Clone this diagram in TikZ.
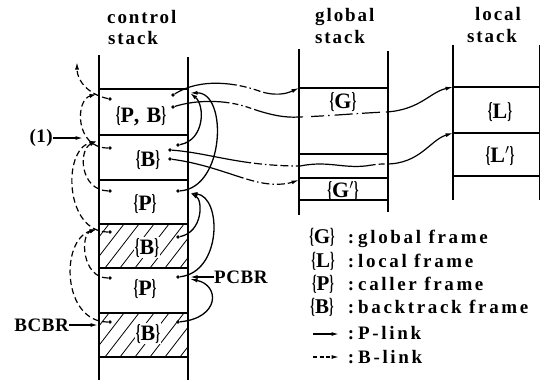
\documentclass[tikz,border=0pt]{standalone}
\usepackage{fontspec}
\setmainfont{Liberation Serif}
\newfontfamily\ttlfont{Liberation Serif}[LetterSpace=10]
\newfontfamily\lblfont{Liberation Serif}[LetterSpace=8]
\newfontfamily\ptrfont{Liberation Serif}[LetterSpace=3]
\newfontfamily\legfont{Liberation Serif}[LetterSpace=14]
\usetikzlibrary{arrows.meta}
\newcommand\Lb{\scalebox{0.55}[1.05]{\{}}
\newcommand\Rb{\scalebox{0.55}[1.05]{\}}}
\tikzset{
  wall/.style={line width=1.8pt},
  sep/.style={line width=1.8pt},
  hatchline/.style={line width=0.8pt},
  ttl/.style={font={\ttlfont\bfseries\fontsize{19}{21}\selectfont}, inner sep=0pt, anchor=base west},
  lbl/.style={font={\lblfont\bfseries\fontsize{22}{24}\selectfont}, inner sep=1pt, anchor=base},
  lblw/.style={lbl, fill=white},
  leg/.style={font={\legfont\bfseries\fontsize{19}{21}\selectfont}, inner sep=0pt},
  legk/.style={font={\bfseries\fontsize{21}{23}\selectfont}, inner sep=0pt},
  ptr/.style={font={\ptrfont\bfseries\fontsize{19}{21}\selectfont}, inner sep=0pt},
  dot/.style={circle, fill=black, inner sep=0pt, minimum size=3.8pt},
  plink/.style={line width=1.3pt, -{Latex[length=7.5pt,width=4pt]}},
  blink/.style={line width=1.2pt, dash pattern=on 6pt off 3.5pt, -{Latex[length=7.5pt,width=4pt]}},
  glink/.style={line width=1.2pt, -{Latex[length=7.5pt,width=4pt]}},
}
\begin{document}
\begin{tikzpicture}[x=1pt,y=-1pt]
\useasboundingbox (0,0) rectangle (540,391);

% ---------- titles
\node[ttl] (t1a) at (107,23) {control};
\node[ttl] (t1b) at (108,44) {stack};
\node[ttl] (t2a) at (315,21) {global};
\node[ttl] (t2b) at (315,43) {stack};
\node[ttl] (t3a) at (475,20) {local};
\node[ttl] (t3b) at (467,42) {stack};

% ---------- control stack hatching
\begin{scope}
  \clip (99,224) rectangle (188,268);
  \foreach \k in {0,...,10} \draw[hatchline] ({60+15*\k},268) -- ++(34,-44);
\end{scope}
\begin{scope}
  \clip (99,313) rectangle (188,357);
  \foreach \k in {0,...,10} \draw[hatchline] ({60+15*\k},357) -- ++(34,-44);
\end{scope}

% ---------- control stack walls and separators
\draw[wall] (99,55) -- (99,380);
\draw[wall] (188,57) -- (188,380);
\foreach \y in {89,135,180,224,268,313,357} \draw[sep] (99,\y) -- (188,\y);

% ---------- frame labels
\node[lbl]  (c1) at (141,122) {\Lb P, B\Rb};
\node[lbl]  (c2) at (148,166) {\Lb B\Rb};
\node[lbl]  (c3) at (145,210) {\Lb P\Rb};
\node[lblw] (c4) at (147,254) {\Lb B\Rb};
\node[lbl]  (c5) at (145,295) {\Lb P\Rb};
\node[lblw] (c6) at (148,340) {\Lb B\Rb};

% ---------- dots
\node[dot] (f1l)  at (110,99) {};
\node[dot] (f1r1) at (173,95) {};
\node[dot] (f1r2) at (173,107) {};
\node[dot] (f2l)  at (110,148) {};
\node[dot] (f2r0) at (178,145) {};
\node[dot] (f2r1) at (170,150) {};
\node[dot] (f2r2) at (170,159) {};
\node[dot] (f3l)  at (110,191) {};
\node[dot] (f3r)  at (178,191) {};
\node[dot] (f4l)  at (110,232) {};
\node[dot] (f4r)  at (178,237) {};
\node[dot] (f5l)  at (110,278) {};
\node[dot] (f5r)  at (178,277) {};
\node[dot] (f6l)  at (110,322) {};
\node[dot] (f6r)  at (178,322) {};

% ---------- targets on the walls
\coordinate (p1) at (190,93);
\coordinate (p3) at (190,193);
\coordinate (p5) at (190,279);
\coordinate (b0) at (77,62);
\coordinate (b1) at (97,94);
\coordinate (b2) at (97,141);
\coordinate (b4) at (97,229);

% ---------- P-links (solid, right side)
\draw[plink] (f3r) .. controls (225,188) and (228,92) .. (p1);
\draw[plink] (f2r0) .. controls (205,140) and (205,105) .. (p1);
\draw[plink] (f5r) .. controls (222,272) and (222,197) .. (p3);
\draw[plink] (f4r) .. controls (203,232) and (203,200) .. (p3);
\draw[plink] (f6r) .. controls (220,318) and (220,285) .. (p5);

% ---------- B-links (dashed, left side)
\draw[blink] (f1l) .. controls (90,95) and (77,82) .. (b0);
\draw[blink] (f2l) .. controls (75,148) and (75,100) .. (b1);
\draw[blink] (f3l) .. controls (80,190) and (78,150) .. (b2);
\draw[blink] (f4l) .. controls (65,232) and (62,150) .. (b2);
\draw[blink] (f5l) .. controls (82,278) and (80,235) .. (b4);
\draw[blink] (f6l) .. controls (62,322) and (60,240) .. (b4);

% ---------- register pointers
\node[ptr, anchor=east] (one) at (53,138) {(1)};
\coordinate (onet) at (83,138);
\draw[plink] (one.east) -- (onet);
\node[ptr, anchor=west] (pcbr) at (214,277) {PCBR};
\coordinate (pcbrt) at (190,277);
\draw[plink] (pcbr.west) -- (pcbrt);
\node[ptr, anchor=east] (bcbr) at (69,325) {BCBR};
\coordinate (bcbrt) at (98,325);
\draw[plink] (bcbr.east) -- (bcbrt);

% ---------- global stack
\draw[wall] (299,49) -- (299,215);
\draw[wall] (388,51) -- (388,212);
\foreach \y in {88,154,178,200} \draw[sep] (299,\y) -- (388,\y);
\node[lbl] (g1) at (343,108) {\Lb G\Rb};
\node[lbl] (g2) at (343,197) {\Lb G$'$\Rb};
\coordinate (gtop) at (299,88);
\coordinate (g2top) at (299,180);

% ---------- local stack
\draw[wall] (453,45) -- (453,200);
\draw[wall] (540,45) -- (540,200);
\foreach \y in {87,133,176} \draw[sep] (453,\y) -- (540,\y);
\node[lbl] (l1) at (500,118) {\Lb L\Rb};
\node[lbl] (l2) at (500,162) {\Lb L$'$\Rb};
\coordinate (ltop) at (453,87);
\coordinate (l2top) at (453,133);

% ---------- links to global / local stacks
\draw[glink, dash pattern=on 64pt off 3pt on 7pt off 3pt on 1.5pt off 3pt on 7pt off 3pt on 200pt]
  (f1r1) .. controls (200,78) and (235,82) .. (262,92) .. controls (280,97) and (290,92) .. (gtop);
\draw[glink, dash pattern=on 55pt off 3pt on 6pt off 3pt on 1.5pt off 3pt on 6pt off 3pt on 50pt off 8pt on 13pt off 4pt on 1.5pt off 5pt on 18pt off 4pt on 1.5pt off 4pt on 18pt off 6pt on 300pt]
  (f1r2) .. controls (195,100) and (225,99) .. (250,108) .. controls (270,115) and (285,118) .. (299,117)
  .. controls (330,116) and (360,113) .. (386,112) .. controls (420,110) and (430,92) .. (ltop);
\draw[glink, dash pattern=on 80pt off 3pt on 8pt off 3pt on 1.5pt off 3pt on 8pt off 3pt on 8pt off 3pt on 1.5pt off 3pt on 80pt off 3pt on 6pt off 3pt on 300pt]
  (f2r1) .. controls (210,153) and (240,166) .. (300,166) .. controls (330,160) and (345,170) .. (372,165)
  .. controls (378,164) and (382,164) .. (386,164) .. controls (420,164) and (430,140) .. (l2top);
\draw[glink, dash pattern=on 74pt off 3pt on 8pt off 3pt on 1.5pt off 3pt on 8pt off 3pt on 1.5pt off 3pt on 8pt off 3pt on 200pt]
  (f2r2) .. controls (215,165) and (245,182) .. (270,184) .. controls (282,185) and (290,183) .. (g2top);

% ---------- legend
\node[legk, anchor=base] (k1) at (322,243) {\Lb G\Rb};
\node[leg, anchor=base] (k1c) at (351,243) {:};
\node[leg, anchor=base west] (k1t) at (358,243) {global frame};
\node[legk, anchor=base] (k2) at (323,267) {\Lb L\Rb};
\node[leg, anchor=base] (k2c) at (351,267) {:};
\node[leg, anchor=base west] (k2t) at (358,267) {local frame};
\node[legk, anchor=base] (k3) at (323,290) {\Lb P\Rb};
\node[leg, anchor=base] (k3c) at (351,290) {:};
\node[leg, anchor=base west] (k3t) at (358,290) {caller frame};
\node[legk, anchor=base] (k4) at (322,313) {\Lb B\Rb};
\node[leg, anchor=base] (k4c) at (351,313) {:};
\node[leg, anchor=base west] (k4t) at (358,313) {backtrack frame};
\coordinate (k5a) at (313,334);
\coordinate (k5b) at (339,334);
\draw[plink] (k5a) -- (k5b);
\node[leg, anchor=base] (k5c) at (351,339) {:};
\node[leg, anchor=base west] (k5t) at (358,339) {P-link};
\coordinate (k6a) at (313,357);
\coordinate (k6b) at (339,357);
\draw[blink, dash pattern=on 4pt off 2.5pt] (k6a) -- (k6b);
\node[leg, anchor=base] (k6c) at (351,363) {:};
\node[leg, anchor=base west] (k6t) at (358,363) {B-link};
\end{tikzpicture}
\end{document}
